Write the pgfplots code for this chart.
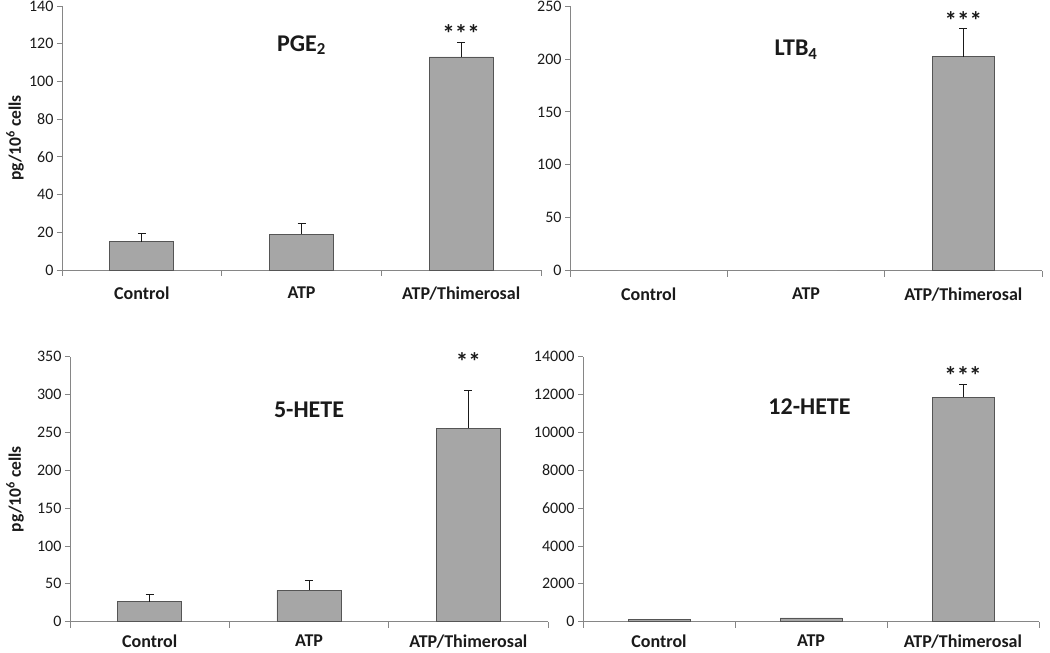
\documentclass[border=0pt]{standalone}
\usepackage{pgfplots}
\pgfplotsset{compat=1.18}
\usepackage{fontspec}
\setmainfont{Carlito}
\definecolor{bargray}{HTML}{A6A6A6}
\definecolor{bardark}{HTML}{555555}
\definecolor{axisgray}{HTML}{868686}
\definecolor{txt}{HTML}{1A1A1A}

\pgfplotstableread{
x y e
0 15.0 4.5
1 19.0 5.9
2 113.0 7.7
}\pge
\pgfplotstableread{
x y
0 0
1 0
}\ltbzero
\pgfplotstableread{
x y e
2 202 27
}\ltb
\pgfplotstableread{
x y e
0 26.5 9.2
1 41.5 12.7
2 255.5 50.5
}\fhete
\pgfplotstableread{
x y
0 110
1 200
}\thetesmall
\pgfplotstableread{
x y e
2 11850 670
}\thete

\pgfplotsset{
  panel/.style={
    scale only axis,
    anchor=south west,
    xmin=-0.5, xmax=2.5,
    ymin=0,
    clip=false,
    axis lines*=left,
    axis line style={draw=axisgray, line width=0.8pt, -},
    tick align=outside,
    major tick length=5pt,
    minor tick length=6pt,
    xtick={0,1,2},
    xticklabels={Control,ATP,ATP/Thimerosal},
    minor xtick={-0.5,0.5,1.5,2.5},
    major x tick style={draw=none},
    minor x tick style={draw=axisgray, line width=0.8pt},
    major y tick style={draw=axisgray, line width=0.8pt},
    x tick label style={font=\bfseries\fontsize{18}{20}\selectfont, text=txt, inner sep=1pt, yshift=-10.5pt},
    y tick label style={font=\fontsize{16}{18}\selectfont, text=txt},
    /pgf/number format/assume math mode=true,
    /pgf/number format/1000 sep={},
    scaled y ticks=false,
    ybar, bar shift=0pt,
  },
  lowpanel/.style={x tick label style={yshift=3.5pt}},
  ylab/.style={
    ylabel={pg/10\textsuperscript{6} cells},
    every axis y label/.style={at={([xshift=#1]axis description cs:0,0.5)}, rotate=90, anchor=center,
      font=\bfseries\fontsize{17.5}{19}\selectfont, text=txt},
  },
  barplot/.style={
    fill=bargray, draw=bardark, line width=0.8pt,
    error bars/.cd, y dir=plus, y explicit,
    error bar style={draw=txt, line width=0.8pt},
    error mark options={rotate=90, draw=txt, line width=0.8pt, mark size=4pt}
  },
  plainbar/.style={fill=bargray, draw=bardark, line width=0.8pt},
}

\newcommand{\ttl}[1]{\bfseries\fontsize{24}{26}\selectfont #1}
\newcommand{\stars}{\bfseries\fontsize{25}{28}\selectfont}

\begin{document}
\begin{tikzpicture}
\useasboundingbox (0,0) rectangle (1050pt,653pt);

% PGE2
\begin{axis}[panel, at={(62pt,383pt)}, width=479pt, height=264pt,
  ymax=140, ytick={0,20,...,140}, bar width=64pt, ylab=-47pt]
\addplot[barplot] table[x=x, y=y, y error=e] {\pge};
\node[text=txt] at (axis cs:1,119.3) {\ttl{PGE\textsubscript{2}}};
\node[text=txt, anchor=base, yshift=-17pt] at (axis cs:2,129.4) {\stars ***};
\end{axis}

% LTB4
\begin{axis}[panel, at={(570pt,382.3pt)}, width=472pt, height=264.7pt,
  ymax=250, ytick={0,50,...,250}, bar width=62pt]
\addplot[fill=bargray, draw=none] table[x=x, y=y] {\ltbzero};
\addplot[barplot] table[x=x, y=y, y error=e] {\ltb};
\node[text=txt] at (axis cs:0.937,208.4) {\ttl{LTB\textsubscript{4}}};
\node[text=txt, anchor=base, yshift=-17pt] at (axis cs:2,243.7) {\stars ***};
\end{axis}

% 5-HETE
\begin{axis}[panel, lowpanel, at={(70pt,31.3pt)}, width=478pt, height=265pt,
  ymax=350, ytick={0,50,...,350}, bar width=64pt, ylab=-55pt]
\addplot[barplot] table[x=x, y=y, y error=e] {\fhete};
\node[text=txt] at (axis cs:1,279.6) {\ttl{5-HETE}};
\node[text=txt, anchor=base, yshift=-17pt] at (axis cs:2,354.5) {\stars **};
\end{axis}

% 12-HETE
\begin{axis}[panel, lowpanel, at={(583pt,31.3pt)}, width=456pt, height=265pt,
  ymax=14000, ytick={0,2000,...,14000}, bar width=62pt]
\addplot[plainbar] table[x=x, y=y] {\thetesmall};
\addplot[barplot] table[x=x, y=y, y error=e] {\thete};
\node[text=txt] at (axis cs:0.99,11358) {\ttl{12-HETE}};
\node[text=txt, anchor=base, yshift=-17pt] at (axis cs:2,13419) {\stars ***};
\end{axis}
\end{tikzpicture}
\end{document}
